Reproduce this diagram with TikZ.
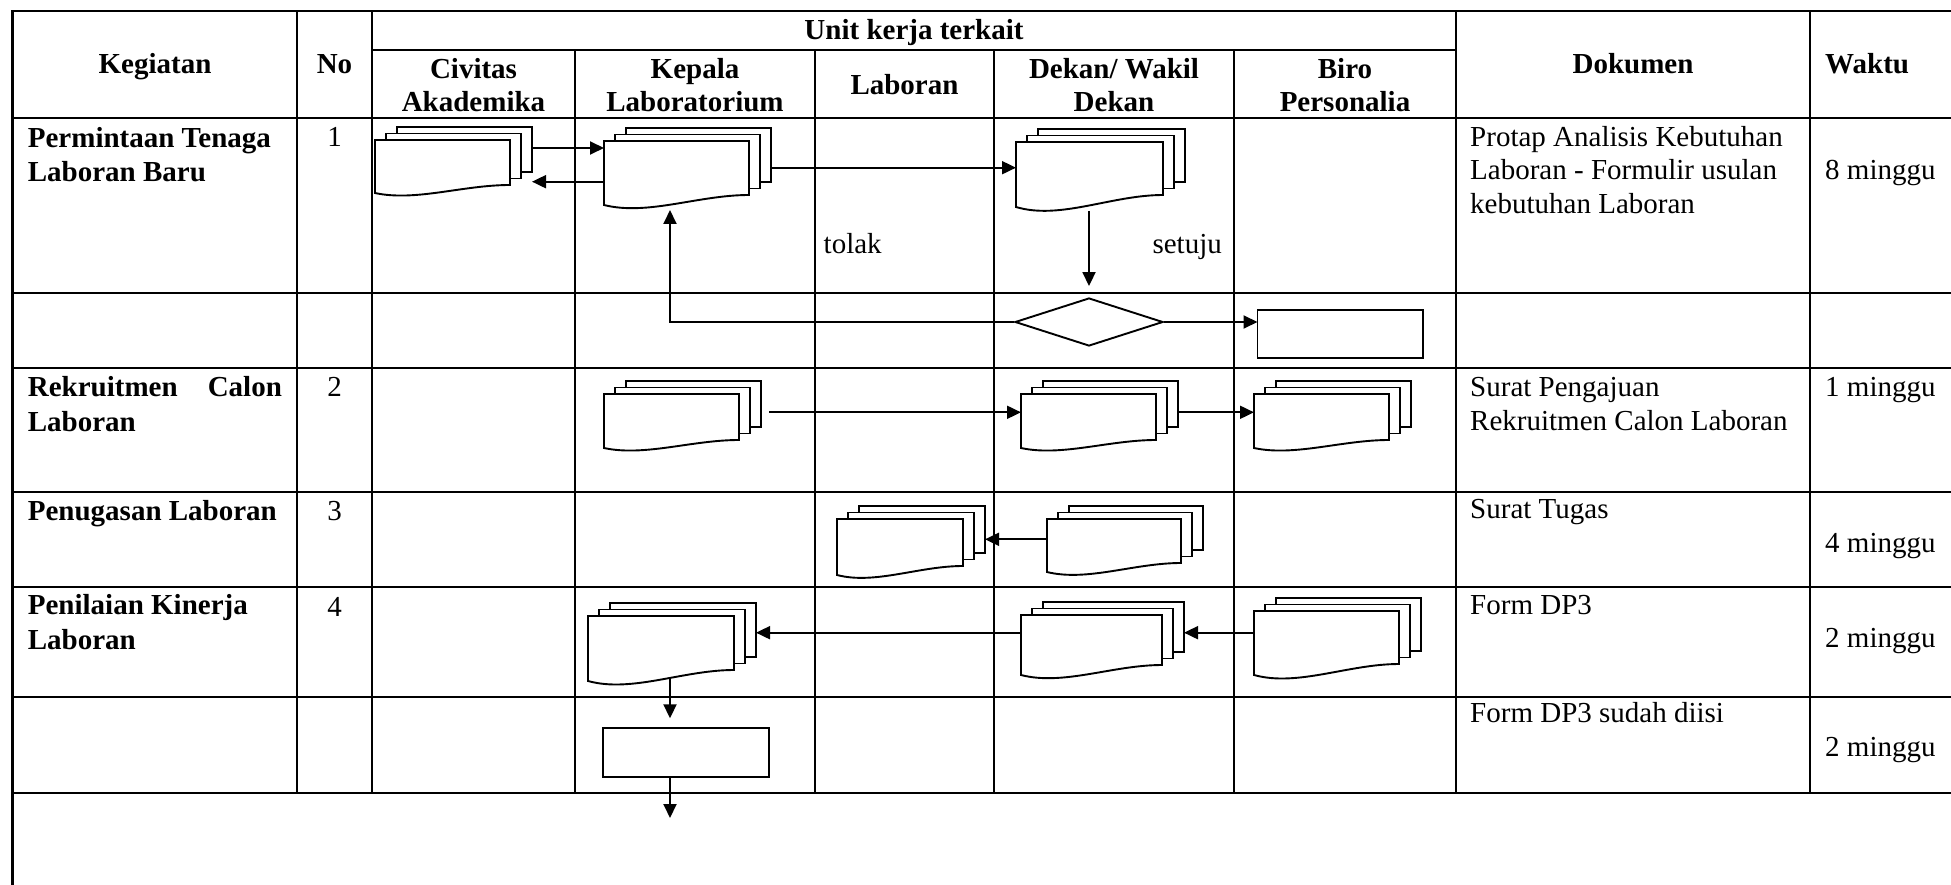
\documentclass[tikz,border=0pt]{standalone}
\usepackage{fontspec}
\setmainfont{Liberation Serif}
\usetikzlibrary{arrows.meta,shapes.geometric,calc}
\def\mdpx{11}
\def\mdpy{6.5}
\newcommand{\mdoc}[6]{%
  \draw[docline] ({#2+2*\mdpx},{#3-2*\mdpy}) rectangle ({#2+#4+2*\mdpx},{#3+#5-2*\mdpy});
  \draw[docline] ({#2+\mdpx},{#3-\mdpy}) rectangle ({#2+#4+\mdpx},{#3+#5-\mdpy});
  \draw[docline] (#2,#3) -- ({#2+#4},#3) -- ({#2+#4},{#3+#5})
     .. controls ({#2+0.65*#4},{#3+#5}) and ({#2+0.3*#4},{#3+#5+2.1*#6}) .. (#2,{#3+#5+#6}) -- cycle;
  \node[inner sep=0,outer sep=0,minimum width=#4pt,minimum height=#5pt,anchor=north west] (#1) at (#2,#3) {};
  \node[inner sep=0,outer sep=0,minimum width=#4pt,minimum height=#5pt,anchor=north west] (#1-b) at ({#2+2*\mdpx},{#3-2*\mdpy}) {};
}
\begin{document}
\begin{tikzpicture}[x=1pt,y=-1pt,
  grid/.style={line width=2.5pt},
  docline/.style={draw,fill=white,line width=1.9pt},
  arr/.style={line width=1.9pt,-{Triangle[length=14pt,width=13pt]}},
  txt/.style={inner sep=0,font=\fontsize{29}{33.5}\selectfont,align=left},
  txtb/.style={inner sep=0,font=\fontsize{29}{34.5}\selectfont\bfseries,align=left},
  hdr/.style={inner sep=0,font=\fontsize{29}{33.3}\selectfont\bfseries,align=center},
  box/.style={draw,line width=1.9pt,inner sep=0,outer sep=0,anchor=north west},
]
\useasboundingbox (0,0) rectangle (1951,885);

% table grid
\draw[grid] (12.5,885) -- (12.5,11) -- (1951,11);
\foreach \yy in {118,293,368,492,587,697,793}
  \draw[grid] (12.5,\yy) -- (1951,\yy);
\draw[grid] (372,50) -- (1456,50);
\foreach \xx in {297,372,1456,1810}
  \draw[grid] (\xx,11) -- (\xx,793);
\foreach \xx in {575,815,994,1234}
  \draw[grid] (\xx,50) -- (\xx,793);

% header (multi-line nodes are anchored at the baseline of their last line)
\node[hdr,anchor=base] (hKeg) at (155,73.3) {Kegiatan};
\node[hdr,anchor=base] (hNo) at (334.5,73.3) {No};
\node[hdr,anchor=base] (hUnit) at (914,39.5) {Unit kerja terkait};
\node[hdr,anchor=base] (hCiv) at (473.5,111.7) {Civitas\\Akademika};
\node[hdr,anchor=base] (hKep) at (695,111.7) {Kepala\\Laboratorium};
\node[hdr,anchor=base] (hLab) at (904.5,95) {Laboran};
\node[hdr,anchor=base] (hDek) at (1114,111.7) {Dekan/ Wakil\\Dekan};
\node[hdr,anchor=base] (hBir) at (1345,111.7) {Biro\\Personalia};
\node[hdr,anchor=base] (hDok) at (1633,73.3) {Dokumen};
\node[hdr,anchor=base west] (hWak) at (1825,73.3) {Waktu};

% row texts
\node[txtb,anchor=base west] (k1) at (27.7,181.7) {Permintaan Tenaga\\Laboran Baru};
\node[txt,anchor=base] (n1) at (334.5,146.7) {1};
\node[txt,anchor=base west] (d1) at (1470,213.3) {Protap Analisis Kebutuhan\\Laboran - Formulir usulan\\kebutuhan Laboran};
\node[txt,anchor=base west] (w1) at (1825,180) {8 minggu};
\node[txt,anchor=base west] (tolak) at (823.5,254) {tolak};
\node[txt,anchor=base east] (setuju) at (1222,254) {setuju};

\node[txtb,anchor=base west] (k2) at (27.7,431) {\makebox[254pt][s]{Rekruitmen Calon}\\Laboran};
\node[txt,anchor=base] (n2) at (334.5,396.7) {2};
\node[txt,anchor=base west] (d2) at (1470,430) {Surat Pengajuan\\Rekruitmen Calon Laboran};
\node[txt,anchor=base west] (w2) at (1825,396.7) {1 minggu};

\node[txtb,anchor=base west] (k3) at (27.7,520.7) {Penugasan Laboran};
\node[txt,anchor=base] (n3) at (334.5,520.7) {3};
\node[txt,anchor=base west] (d3) at (1470,518.3) {Surat Tugas};
\node[txt,anchor=base west] (w3) at (1825,552.7) {4 minggu};

\node[txtb,anchor=base west] (k4) at (27.7,649.3) {Penilaian Kinerja\\Laboran};
\node[txt,anchor=base] (n4) at (334.5,616) {4};
\node[txt,anchor=base west] (d4) at (1470,614) {Form DP3};
\node[txt,anchor=base west] (w4) at (1825,647.3) {2 minggu};

\node[txt,anchor=base west] (d5) at (1470,722.3) {Form DP3 sudah diisi};
\node[txt,anchor=base west] (w5) at (1825,756.7) {2 minggu};

% documents
\mdoc{civ1}{375}{140}{135}{45}{8}
\mdoc{kep1}{604}{141}{145}{54}{10}
\mdoc{dek1}{1016}{142}{147}{53}{12}
\mdoc{kep2}{604}{394}{135}{46}{8}
\mdoc{dek2}{1021}{394}{135}{46}{8}
\mdoc{bir2}{1254}{394}{135}{46}{8}
\mdoc{lab3}{837}{519}{126}{47}{9}
\mdoc{dek3}{1047}{519}{134}{44}{9}
\mdoc{kep4}{588}{616}{146}{54}{11}
\mdoc{dek4}{1021}{615}{141}{50}{10}
\mdoc{bir4}{1254}{611}{145}{53}{11}

% other shapes
\node[box,minimum width=165.5pt,minimum height=48.3pt] (r1) at (1257.5,310) {};
\node[box,minimum width=166pt,minimum height=48.4pt] (r2) at (603.3,728.3) {};
\node[diamond,draw,line width=1.9pt,inner sep=0,minimum width=148pt,minimum height=48pt] (dia) at (1089,322) {};

% level coordinates
\coordinate (ya) at (0,148);
\coordinate (yb) at (0,181.7);
\coordinate (yc) at (0,167.7);
\coordinate (yd) at (0,412.3);
\coordinate (ye) at (0,539.3);
\coordinate (yf) at (0,632.7);
\coordinate (dek1-out) at (1089,211);
\coordinate (kep1-in) at (670,210);
\coordinate (kep4-out) at (670,677);
\coordinate (end) at (670,818);

% connectors
\draw[arr] (civ1-b.east |- ya) -- (kep1.west |- ya);
\draw[arr] (kep1.west |- yb) -- (civ1-b.east |- yb);
\draw[arr] (kep1-b.east |- yc) -- (dek1.west |- yc);
\draw[arr] (dek1-out) -- ([yshift=11pt]dia.north);
\draw[arr] (dia.west) -| (kep1-in);
\draw[arr] (dia.east) -- (r1.west |- dia.east);
\draw[arr] ([xshift=8pt]kep2-b.east |- yd) -- (dek2.west |- yd);
\draw[arr] (dek2-b.east |- yd) -- (bir2.west |- yd);
\draw[arr] (dek3.west |- ye) -- (lab3-b.east |- ye);
\draw[arr] (dek4.west |- yf) -- (kep4-b.east |- yf);
\draw[arr] (bir4.west |- yf) -- (dek4-b.east |- yf);
\draw[arr,shorten >=10pt] (kep4-out) -- (kep4-out |- r2.north);
\draw[arr] (r2.south -| kep4-out) -- (end);
\end{tikzpicture}
\end{document}
